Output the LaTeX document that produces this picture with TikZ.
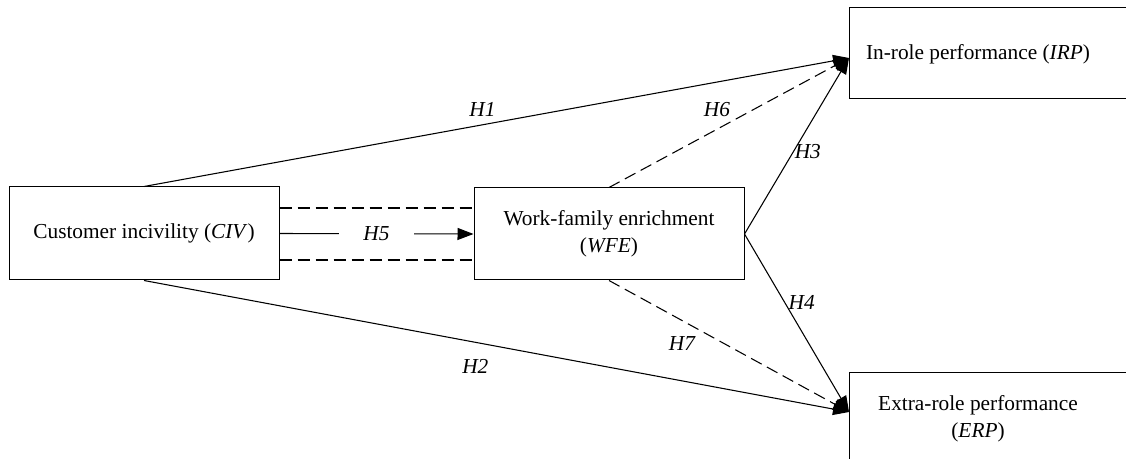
\documentclass[tikz,border=0pt]{standalone}
\usepackage{fontspec}
\setmainfont{Liberation Serif}
\usetikzlibrary{arrows.meta}
\begin{document}
\begin{tikzpicture}[x=0.75pt,y=-0.75pt,
  box/.style={draw,line width=0.75pt,rectangle,inner sep=0pt,align=center,
    font=\fontsize{16pt}{20pt}\selectfont},
  txt/.style={align=center,inner sep=0pt,font=\fontsize{16pt}{20pt}\selectfont},
  lab/.style={font=\fontsize{16pt}{20pt}\selectfont\itshape,inner sep=1pt},
  conn/.style={line width=0.8pt,-{Triangle[length=12pt,width=9pt]}},
  dconn/.style={conn,dash pattern=on 9pt off 4.5pt},
  dline/.style={line width=0.8pt,dash pattern=on 9pt off 4.5pt}]
\useasboundingbox (0,0) rectangle (1126,459);
\clip (0,0) rectangle (1126,459);
% boxes
\node[box,minimum width=270*0.75pt,minimum height=93*0.75pt] (civ) at (144,233.5)
  {Customer incivility (\textit{CIV})};
\node[box,minimum width=270*0.75pt,minimum height=92*0.75pt] (wfe) at (609,234)
  {Work-family enrichment\\(\textit{WFE})};
\node[box,minimum width=300*0.75pt,minimum height=91*0.75pt,anchor=west] (irp) at (849,53.5) {};
\node[txt] (irpt) at (978,54) {In-role performance (\textit{IRP})};
\node[box,minimum width=300*0.75pt,minimum height=92*0.75pt,anchor=north west] (erp) at (849,372) {};
\node[txt] (erpt) at (978,419) {Extra-role performance\\(\textit{ERP})};
\coordinate (irpin) at (849,58);
\coordinate (erpin) at (849,412);
% CIV -> WFE
\draw[dline] (civ.east |- 0,208) -- (wfe.west |- 0,208);
\draw[dline] (civ.east |- 0,260) -- (wfe.west |- 0,260);
\draw[conn] (civ.east) -- node[lab,fill=white,inner xsep=18pt] {H5} (wfe.west);
% direct effects
\draw[conn] (civ.north) -- node[lab,pos=0.48,yshift=11.5pt] {H1} (irpin);
\draw[conn] (civ.south) -- node[lab,pos=0.47,yshift=-18pt] {H2} (erpin);
\draw[conn] (wfe.east) -- node[lab,pos=0.466,xshift=11pt] {H3} (irpin);
\draw[conn] (wfe.east) -- node[lab,pos=0.382,xshift=13pt] {H4} (erpin);
\draw[dconn] (wfe.north) -- node[lab,pos=0.45,yshift=14.5pt] {H6} (irpin);
\draw[dconn] (wfe.south) -- node[lab,pos=0.304,yshift=-17pt] {H7} (erpin);
\end{tikzpicture}
\end{document}
